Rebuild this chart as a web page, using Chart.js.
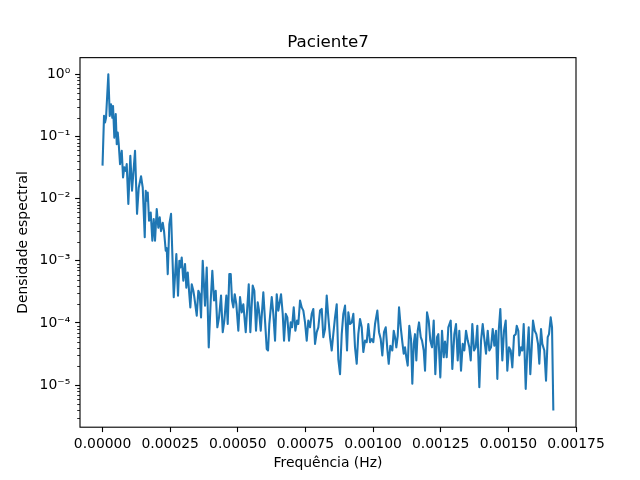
<!DOCTYPE html>
<html>
<head>
<meta charset="utf-8">
<script src="https://cdn.jsdelivr.net/npm/chart.js@4.4.1/dist/chart.umd.min.js"></script>
<style>
  html, body { margin: 0; padding: 0; background: #fff; }
  canvas { display: block; }
</style>
</head>
<body>
<canvas id="c" width="640" height="480"></canvas>
<script>
// Frequencies (Hz)
const freq = [
  0, 5.5e-6, 9.2e-6, 1.29e-5, 2.14e-5, 2.66e-5, 3.14e-5, 3.62e-5, 3.88e-5, 4.36e-5,
  4.88e-5, 5.25e-5, 5.62e-5, 5.99e-5, 6.47e-5, 7.10e-5, 7.58e-5, 8.06e-5, 8.57e-5, 8.94e-5,
  9.54e-5, 1.027e-4, 1.090e-4, 1.201e-4, 1.275e-4, 1.338e-4, 1.423e-4, 1.486e-4, 1.560e-4, 1.597e-4,
  1.634e-4, 1.671e-4, 1.719e-4, 1.781e-4, 1.841e-4, 1.892e-4, 1.940e-4, 2.003e-4, 2.062e-4, 2.114e-4,
  2.162e-4, 2.225e-4, 2.273e-4, 2.336e-4, 2.373e-4, 2.410e-4, 2.469e-4, 2.532e-4, 2.632e-4, 2.728e-4,
  2.790e-4, 2.839e-4, 2.875e-4, 2.927e-4, 2.986e-4, 3.049e-4, 3.097e-4, 3.149e-4, 3.197e-4, 3.245e-4,
  3.297e-4, 3.356e-4, 3.393e-4, 3.482e-4, 3.541e-4, 3.592e-4, 3.641e-4, 3.703e-4, 3.788e-4, 3.851e-4,
  3.925e-4, 3.999e-4, 4.058e-4, 4.121e-4, 4.184e-4, 4.243e-4, 4.306e-4, 4.380e-4, 4.443e-4, 4.502e-4,
  4.576e-4, 4.627e-4, 4.686e-4, 4.738e-4, 4.786e-4, 4.834e-4, 4.886e-4, 4.945e-4, 5.019e-4, 5.082e-4,
  5.145e-4, 5.204e-4, 5.293e-4, 5.404e-4, 5.463e-4, 5.551e-4, 5.611e-4, 5.673e-4, 5.736e-4, 5.784e-4,
  5.847e-4, 5.943e-4, 6.006e-4, 6.069e-4, 6.117e-4, 6.165e-4, 6.254e-4, 6.313e-4, 6.376e-4, 6.438e-4,
  6.498e-4, 6.597e-4, 6.660e-4, 6.708e-4, 6.771e-4, 6.830e-4, 6.893e-4, 6.956e-4, 7.004e-4, 7.067e-4,
  7.126e-4, 7.189e-4, 7.237e-4, 7.300e-4, 7.362e-4, 7.422e-4, 7.484e-4, 7.547e-4, 7.606e-4, 7.669e-4,
  7.732e-4, 7.791e-4, 7.854e-4, 7.917e-4, 7.976e-4, 8.039e-4, 8.102e-4, 8.161e-4, 8.224e-4, 8.286e-4,
  8.346e-4, 8.408e-4, 8.471e-4, 8.530e-4, 8.593e-4, 8.656e-4, 8.715e-4, 8.778e-4, 8.841e-4, 8.900e-4,
  8.963e-4, 9.037e-4, 9.085e-4, 9.148e-4, 9.211e-4, 9.270e-4, 9.332e-4, 9.395e-4, 9.454e-4, 9.517e-4,
  9.580e-4, 9.639e-4, 9.702e-4, 9.765e-4, 9.824e-4, 9.887e-4, 9.950e-4, 1.0009e-3, 1.0072e-3, 1.0157e-3,
  1.0219e-3, 1.0282e-3, 1.0341e-3, 1.0404e-3, 1.0467e-3, 1.0526e-3, 1.0578e-3, 1.0637e-3, 1.0711e-3, 1.0763e-3,
  1.0811e-3, 1.0859e-3, 1.0911e-3, 1.0959e-3, 1.1022e-3, 1.1081e-3, 1.1132e-3, 1.1180e-3, 1.1228e-3, 1.1280e-3,
  1.1339e-3, 1.1402e-3, 1.1450e-3, 1.1502e-3, 1.1550e-3, 1.1598e-3, 1.1650e-3, 1.1698e-3, 1.1761e-3, 1.1809e-3,
  1.1872e-3, 1.1920e-3, 1.1994e-3, 1.2056e-3, 1.2115e-3, 1.2178e-3, 1.2241e-3, 1.2300e-3, 1.2363e-3, 1.2411e-3,
  1.2485e-3, 1.2548e-3, 1.2611e-3, 1.2659e-3, 1.2721e-3, 1.2781e-3, 1.2869e-3, 1.2929e-3, 1.3003e-3, 1.3065e-3,
  1.3128e-3, 1.3187e-3, 1.3250e-3, 1.3313e-3, 1.3372e-3, 1.3435e-3, 1.3498e-3, 1.3557e-3, 1.3609e-3, 1.3668e-3,
  1.3731e-3, 1.3793e-3, 1.3853e-3, 1.3927e-3, 1.3990e-3, 1.4052e-3, 1.4112e-3, 1.4174e-3, 1.4237e-3, 1.4296e-3,
  1.4359e-3, 1.4422e-3, 1.4481e-3, 1.4544e-3, 1.4592e-3, 1.4644e-3, 1.4703e-3, 1.4777e-3, 1.4839e-3, 1.4902e-3,
  1.4961e-3, 1.5024e-3, 1.5087e-3, 1.5146e-3, 1.5209e-3, 1.5272e-3, 1.5309e-3, 1.5368e-3, 1.5405e-3, 1.5468e-3,
  1.5516e-3, 1.5567e-3, 1.5641e-3, 1.5700e-3, 1.5752e-3, 1.5811e-3, 1.5863e-3, 1.5911e-3, 1.5974e-3, 1.6033e-3,
  1.6096e-3, 1.6144e-3, 1.6207e-3, 1.6255e-3, 1.6329e-3, 1.6392e-3, 1.6454e-3, 1.6502e-3, 1.6565e-3, 1.6614e-3,
  1.6662e-3
];

// Spectral density values
const density = [
  0.034, 0.215, 0.168, 0.2, 1.0, 0.215, 0.33, 0.2, 0.31, 0.096,
  0.23, 0.0755, 0.116, 0.0755, 0.036, 0.059, 0.022, 0.032, 0.028, 0.036,
  0.0082, 0.049, 0.0134, 0.059, 0.0057, 0.015, 0.023, 0.015, 0.0024, 0.0134,
  0.0093, 0.0126, 0.0044, 0.006, 0.0021, 0.0047, 0.0021, 0.0068, 0.0034, 0.005,
  0.003, 0.0041, 0.003, 0.00145, 0.0016, 6.1e-4, 0.0039, 0.0057, 2.6e-4, 0.00128,
  2.75e-4, 0.001, 7.8e-4, 0.00113, 4.8e-4, 8.9e-4, 3.7e-4, 6.5e-4, 3.3e-4, 1.78e-4,
  4.2e-4, 3.3e-4, 2.6e-4, 1.31e-4, 3.3e-4, 2.9e-4, 1.23e-4, 0.001, 1.9e-4, 7.8e-4,
  4.05e-5, 2.3e-4, 6.9e-4, 2.3e-4, 3.3e-4, 8.5e-5, 1.23e-4, 2.75e-4, 7.1e-5, 1.09e-4,
  2.75e-4, 9.6e-5, 6.1e-4, 6.1e-4, 2.3e-4, 1.78e-4, 2.9e-4, 2.0e-4, 7.5e-5, 2.6e-4,
  1.48e-4, 2.0e-4, 7.1e-5, 4.2e-4, 7.1e-5, 4.0e-4, 3.3e-4, 7.5e-5, 2.15e-4, 1.58e-4,
  7.5e-5, 3.1e-4, 1.09e-4, 3.8e-5, 3.6e-5, 9.6e-5, 2.6e-4, 1.4e-4, 5.2e-5, 2.9e-4,
  1.58e-4, 2.9e-4, 1.4e-4, 5.2e-5, 1.4e-4, 1.23e-4, 5.2e-5, 1.02e-4, 8.5e-5, 1.78e-4,
  7.5e-5, 1.09e-4, 9.6e-5, 2.3e-4, 1.78e-4, 1.58e-4, 1.02e-4, 5.2e-5, 1.09e-4, 8.5e-5,
  1.4e-4, 1.68e-4, 4.6e-5, 7.1e-5, 8.5e-5, 1.58e-4, 1.68e-4, 5.9e-5, 8.0e-5, 2.75e-4,
  1.23e-4, 5.9e-5, 3.6e-5, 6.6e-5, 1.23e-4, 2.0e-4, 2.6e-5, 1.5e-5, 6.6e-5, 1.4e-4,
  1.9e-4, 3.6e-5, 1.48e-4, 9.6e-5, 1.02e-4, 1.4e-4, 4.05e-5, 2.2e-5, 6.6e-5, 1.16e-4,
  8.5e-5, 3.4e-5, 5.2e-5, 4.9e-5, 9.6e-5, 4.9e-5, 5.5e-5, 4.9e-5, 9.6e-5, 1.58e-4,
  7.1e-5, 5.5e-5, 3.0e-5, 7.1e-5, 8.5e-5, 3.8e-5, 2.2e-5, 4.3e-5, 3.6e-5, 7.5e-5,
  5.9e-5, 4.05e-5, 6.2e-5, 1.78e-4, 8.5e-5, 4.9e-5, 3.2e-5, 4.05e-5, 2.8e-5, 2.06e-5,
  9.0e-5, 5.5e-5, 1.05e-5, 4.6e-5, 6.6e-5, 2.5e-5, 7.5e-5, 1.02e-4, 5.9e-5, 5.2e-5,
  3.6e-5, 1.71e-5, 1.48e-4, 1.09e-4, 5.2e-5, 4.05e-5, 1.09e-4, 1.5e-5, 5.9e-5, 6.6e-5,
  1.33e-5, 7.5e-5, 2.8e-5, 5.0e-5, 2.8e-5, 8.5e-5, 1.09e-4, 1.82e-5, 6.6e-5, 9.6e-5,
  2.5e-5, 7.5e-5, 1.71e-5, 4.6e-5, 3.6e-5, 7.5e-5, 5.2e-5, 4.05e-5, 2.5e-5, 9.6e-5,
  3.6e-5, 4.05e-5, 9.0e-5, 9.2e-6, 5.2e-5, 9.6e-5, 5.5e-5, 3.2e-5, 7.5e-5, 3.6e-5,
  4.05e-5, 8.0e-5, 4.3e-5, 7.5e-5, 1.26e-5, 7.5e-5, 1.68e-4, 2.5e-5, 7.5e-5, 1.09e-4,
  1.71e-5, 4.05e-5, 3.6e-5, 1.93e-5, 6.2e-5, 6.6e-5, 9.0e-5, 7.5e-5, 3.0e-5, 4.05e-5,
  3.6e-5, 9.6e-5, 8.7e-6, 3.6e-5, 8.5e-5, 1.5e-5, 4.05e-5, 1.09e-4, 7.5e-5, 6.6e-5,
  4.6e-5, 2.2e-5, 8.0e-5, 4.6e-5, 3.6e-5, 1.18e-5, 5.9e-5, 6.6e-5, 1.23e-4, 8.5e-5,
  3.9e-6
];

// Axis ticks and labels
const xTicks = [0, 0.00025, 0.0005, 0.00075, 0.001, 0.00125, 0.0015, 0.00175];
const xTickLabels = ['0.00000', '0.00025', '0.00050', '0.00075', '0.00100', '0.00125', '0.00150', '0.00175'];
const yTicks = [1e-5, 1e-4, 1e-3, 1e-2, 1e-1, 1];
const yTickLabels = ['10\u207B\u2075', '10\u207B\u2074', '10\u207B\u00B3', '10\u207B\u00B2', '10\u207B\u00B9', '10\u2070'];
const xRange = [-0.0000833, 0.00175];
const yRange = [2.1e-6, 1.86];

const FONT = "'DejaVu Sans', sans-serif";

const framePlugin = {
  id: 'frame',
  afterLayout(chart) {
    // centre the title over the plot area, as matplotlib does
    const t = chart.titleBlock;
    if (t) {
      t.left = chart.chartArea.left;
      t.right = chart.chartArea.right;
      t.width = t.right - t.left;
    }
  },
  afterDraw(chart) {
    const { ctx, chartArea: a, scales } = chart;
    const y = scales.y;
    ctx.save();
    ctx.strokeStyle = '#000';
    // minor ticks on the log axis
    ctx.lineWidth = 0.83;
    for (let e = -7; e <= 1; e++) {
      for (let m = 2; m <= 9; m++) {
        const v = m * Math.pow(10, e);
        if (v < y.min || v > y.max) continue;
        const p = Math.round(y.getPixelForValue(v)) + 0.5;
        ctx.beginPath();
        ctx.moveTo(a.left - 2.8, p);
        ctx.lineTo(a.left, p);
        ctx.stroke();
      }
    }
    ctx.lineWidth = 1.11;
    ctx.strokeRect(a.left, a.top, a.right - a.left, a.bottom - a.top);
    ctx.restore();
  }
};

new Chart(document.getElementById('c'), {
  type: 'line',
  data: {
    datasets: [{
      data: freq.map((f, i) => ({ x: f, y: density[i] })),
      borderColor: '#1f77b4',
      borderWidth: 2.08,
      pointRadius: 0,
      tension: 0,
      fill: false,
      borderJoinStyle: 'round',
      borderCapStyle: 'butt'
    }]
  },
  options: {
    responsive: false,
    animation: false,
    devicePixelRatio: 1,
    layout: { padding: { left: 0, right: 64, top: 0, bottom: 0 } },
    plugins: {
      legend: { display: false },
      tooltip: { enabled: false },
      title: {
        display: true,
        text: 'Paciente7',
        color: '#000',
        font: { family: FONT, size: 16.7, weight: 'normal', lineHeight: 1.2 },
        padding: { top: 33, bottom: 4.6 }
      }
    },
    scales: {
      x: {
        type: 'linear',
        min: xRange[0],
        max: xRange[1],
        afterFit(scale) { scale.height = 52.8; },
        afterBuildTicks(scale) { scale.ticks = xTicks.map(v => ({ value: v })); },
        grid: { display: true, drawOnChartArea: false, drawTicks: true, tickLength: 4.9, tickColor: '#000', tickWidth: 1.11 },
        border: { display: false },
        ticks: {
          autoSkip: false, maxRotation: 0, minRotation: 0,
          padding: 3.5,
          color: '#000',
          font: { family: FONT, size: 13.9 },
          callback: (v, i) => xTickLabels[i]
        },
        title: {
          display: true,
          text: 'Frequência (Hz)',
          color: '#000',
          font: { family: FONT, size: 13.9 },
          padding: { top: 0, bottom: 8.7 }
        }
      },
      y: {
        type: 'logarithmic',
        min: yRange[0],
        max: yRange[1],
        afterFit(scale) { scale.width = 80; },
        afterBuildTicks(scale) { scale.ticks = yTicks.map(v => ({ value: v })); },
        grid: { display: true, drawOnChartArea: false, drawTicks: true, tickLength: 4.9, tickColor: '#000', tickWidth: 1.11 },
        border: { display: false },
        ticks: {
          autoSkip: false,
          padding: 4.9,
          color: '#000',
          font: { family: FONT, size: 13.9 },
          callback: (v, i) => yTickLabels[i]
        },
        title: {
          display: true,
          text: 'Densidade espectral',
          color: '#000',
          font: { family: FONT, size: 13.9 },
          padding: { top: 14.7, bottom: 0 }
        }
      }
    }
  },
  plugins: [framePlugin]
});
</script>
</body>
</html>
